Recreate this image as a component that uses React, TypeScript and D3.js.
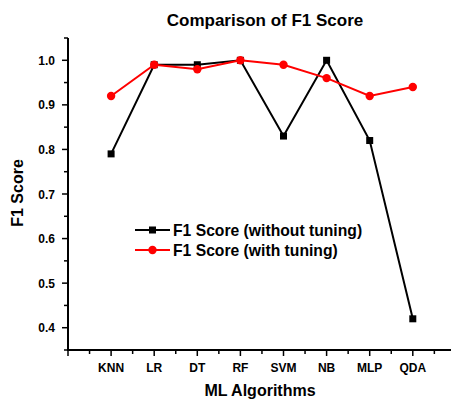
import React, { useEffect, useRef } from "react";
import * as d3 from "d3";

const categories = ["KNN", "LR", "DT", "RF", "SVM", "NB", "MLP", "QDA"];
const withoutTuning = [0.79, 0.99, 0.99, 1.0, 0.83, 1.0, 0.82, 0.42];
const withTuning = [0.92, 0.99, 0.98, 1.0, 0.99, 0.96, 0.92, 0.94];
const yTicks = [0.4, 0.5, 0.6, 0.7, 0.8, 0.9, 1.0];

const App = () => {
  const svgRef = useRef<SVGSVGElement>(null);

  useEffect(() => {
    const W = 451;
    const H = 403;
    const left = 68;
    const top = 38;
    const bottom = 350;
    const font = "'Liberation Sans', Arial, sans-serif";

    const svg = d3.select(svgRef.current).attr("width", W).attr("height", H);
    svg.selectAll("*").remove();
    svg.append("rect").attr("width", W).attr("height", H).attr("fill", "#fff");

    const x = d3.scaleLinear().domain([0, 9]).range([left, left + 9 * 43.1]);
    const y = d3.scaleLinear().domain([0.35, 1.05]).range([bottom, top]);

    // x axis
    const xAxis = svg.append("g").attr("transform", `translate(0,${bottom})`);
    xAxis
      .append("line")
      .attr("x1", left)
      .attr("x2", W)
      .attr("stroke", "#000")
      .attr("stroke-width", 2);
    d3.range(0, 9.01, 0.5).forEach((v) => {
      const major = Number.isInteger(v);
      xAxis
        .append("line")
        .attr("x1", x(v))
        .attr("x2", x(v))
        .attr("y1", 0)
        .attr("y2", major ? 6 : 4)
        .attr("stroke", "#000")
        .attr("stroke-width", 1.5);
    });
    xAxis
      .selectAll("text.cat")
      .data(categories)
      .join("text")
      .attr("x", (d, i) => x(i + 1))
      .attr("y", 22)
      .attr("text-anchor", "middle")
      .attr("font-family", font)
      .attr("font-weight", "bold")
      .attr("font-size", 12)
      .text((d) => d);

    // y axis
    const yAxis = svg.append("g").attr("transform", `translate(${left},0)`);
    yAxis
      .append("line")
      .attr("y1", top)
      .attr("y2", bottom + 1)
      .attr("stroke", "#000")
      .attr("stroke-width", 2);
    d3.range(0.35, 1.051, 0.05).forEach((v) => {
      const major = Math.abs(Math.round(v * 10) - v * 10) < 1e-6;
      yAxis
        .append("line")
        .attr("x1", 0)
        .attr("x2", major ? -6 : -4)
        .attr("y1", y(v))
        .attr("y2", y(v))
        .attr("stroke", "#000")
        .attr("stroke-width", 1.5);
    });
    yAxis
      .selectAll("text.tick")
      .data(yTicks)
      .join("text")
      .attr("x", -13)
      .attr("y", (d) => y(d) + 4.5)
      .attr("text-anchor", "end")
      .attr("font-family", font)
      .attr("font-weight", "bold")
      .attr("font-size", 12)
      .text((d) => d.toFixed(1));

    // titles
    svg
      .append("text")
      .attr("x", 265)
      .attr("y", 26)
      .attr("text-anchor", "middle")
      .attr("font-family", font)
      .attr("font-weight", "bold")
      .attr("font-size", 17)
      .text("Comparison of F1 Score");
    svg
      .append("text")
      .attr("x", 260)
      .attr("y", 396)
      .attr("text-anchor", "middle")
      .attr("font-family", font)
      .attr("font-weight", "bold")
      .attr("font-size", 16)
      .text("ML Algorithms");
    svg
      .append("text")
      .attr("transform", `translate(23,${y(0.7) - 1}) rotate(-90)`)
      .attr("text-anchor", "middle")
      .attr("font-family", font)
      .attr("font-weight", "bold")
      .attr("font-size", 16)
      .text("F1 Score");

    const line = d3
      .line<number>()
      .x((d, i) => x(i + 1))
      .y((d) => y(d));

    // series 1: without tuning
    svg
      .append("path")
      .datum(withoutTuning)
      .attr("fill", "none")
      .attr("stroke", "#000")
      .attr("stroke-width", 2)
      .attr("d", line);
    svg
      .selectAll("rect.m1")
      .data(withoutTuning)
      .join("rect")
      .attr("x", (d, i) => x(i + 1) - 3.5)
      .attr("y", (d) => y(d) - 3.5)
      .attr("width", 7)
      .attr("height", 7)
      .attr("fill", "#000");

    // series 2: with tuning
    svg
      .append("path")
      .datum(withTuning)
      .attr("fill", "none")
      .attr("stroke", "#ff0000")
      .attr("stroke-width", 2)
      .attr("d", line);
    svg
      .selectAll("circle.m2")
      .data(withTuning)
      .join("circle")
      .attr("cx", (d, i) => x(i + 1))
      .attr("cy", (d) => y(d))
      .attr("r", 4.2)
      .attr("fill", "#ff0000");

    // legend
    const legend = svg.append("g").attr("transform", "translate(135,230)");
    const items = [
      { label: "F1 Score (without tuning)", color: "#000", shape: "square" },
      { label: "F1 Score (with tuning)", color: "#ff0000", shape: "circle" },
    ];
    items.forEach((it, i) => {
      const g = legend.append("g").attr("transform", `translate(0,${i * 20})`);
      g.append("line")
        .attr("x1", 0)
        .attr("x2", 35)
        .attr("stroke", it.color)
        .attr("stroke-width", 2);
      if (it.shape === "square") {
        g.append("rect")
          .attr("x", 14)
          .attr("y", -3.5)
          .attr("width", 7)
          .attr("height", 7)
          .attr("fill", it.color);
      } else {
        g.append("circle").attr("cx", 17.5).attr("r", 4.2).attr("fill", it.color);
      }
      g.append("text")
        .attr("x", 38)
        .attr("y", 5.5)
        .attr("font-family", font)
        .attr("font-weight", "bold")
        .attr("font-size", 15.7)
        .text(it.label);
    });
  }, []);

  return (
    <svg
      ref={svgRef}
      style={{ position: "absolute", left: 0, top: 0, display: "block" }}
    ></svg>
  );
};

export default App;
